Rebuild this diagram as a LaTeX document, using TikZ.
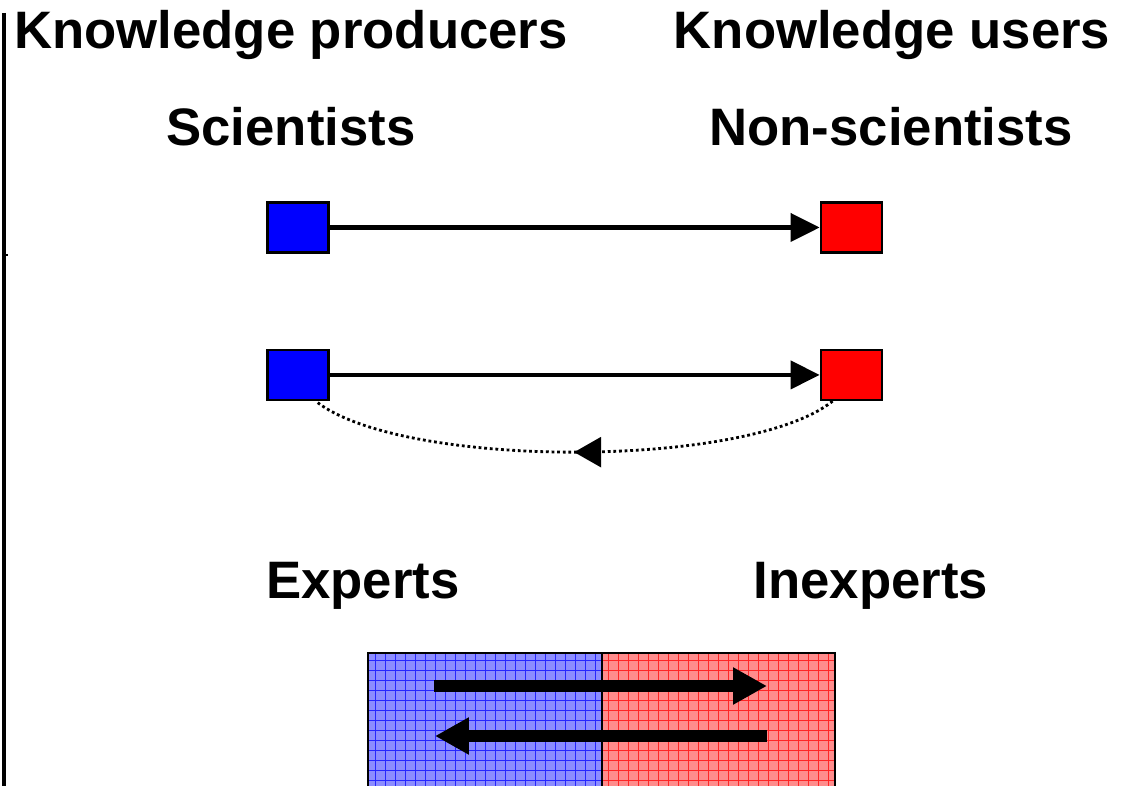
\documentclass[tikz,border=0pt]{standalone}
\usepackage{fontspec}
\setmainfont{Liberation Sans}
\usepackage{tikz}
\usetikzlibrary{arrows.meta,positioning,decorations.markings}
\definecolor{myblue}{RGB}{0,0,255}
\definecolor{myred}{RGB}{255,0,0}

\begin{document}
\begin{tikzpicture}[x=0.02cm, y=-0.02cm, node distance=9.8cm,
        title/.style={font=\fontsize{30}{36}\selectfont\bfseries, anchor=base, inner sep=0pt},
        party/.style={draw, line width=1.4pt, minimum width=1.22cm, minimum height=1cm, inner sep=0pt},
        link/.style={line width=2.3pt, -{Triangle[length=0.58cm,width=0.56cm]}},
        back/.style={line width=1.6pt, dash pattern=on 1.6pt off 1.6pt, postaction={decorate},
            decoration={markings, mark=at position 0.5 with {\arrow{Triangle[length=0.54cm,width=0.6cm]}}}},
        half/.style={draw, line width=1.1pt, anchor=north west, minimum width=4.68cm, minimum height=2.68cm, inner sep=0pt,
            path picture={\draw[#1, line width=0.3pt, step=0.2cm] (path picture bounding box.south west) grid (path picture bounding box.north east);}},
        flow/.style={line width=6.8pt, -{Triangle[length=0.68cm,width=0.7cm]}}]
        \useasboundingbox (0,0) rectangle (1133,786);

        % left rule
        \coordinate (top) at (4,13);
        \coordinate (bot) at (4,786);
        \coordinate (tick) at (4,255);
        \draw[line width=2.2pt] (top) -- (bot);
        \draw[line width=1pt] (tick) -- ++(4,0);

        % headings
        \node[title] (prod) at (291,49) {Knowledge producers};
        \node[title] (users) at (892,49) {Knowledge users};
        \node[title] (sci) at (291,146) {Scientists};
        \node[title] (nonsci) at (891,146) {Non-scientists};

        % one-way model
        \node[party, fill=myblue] (b1) at (298,227.5) {};
        \node[party, fill=myred] (r1) [right=of b1] {};
        \node[party, fill=myblue] (b2) [below=1.9cm of b1] {};
        \node[party, fill=myred] (r2) [right=of b2] {};

        \draw[link] (b1) -- (r1);
        \draw[link] (b2) -- (r2);
        \draw[back] ([xshift=0.26cm]r2.south west) .. controls +(-85,68) and +(85,68) .. ([xshift=-0.28cm]b2.south east);

        % dialogue model
        \node[title] (exp) at (363,599) {Experts};
        \node[title] (inexp) at (871,599) {Inexperts};

        \node[half=blue!85, fill=blue!45] (left) at (367,652) {};
        \node[half=red!85, fill=red!45, minimum width=4.66cm] (right) at (601,652) {};

        \coordinate (t1s) at (434,686);
        \coordinate (t1e) at (767,686);
        \coordinate (t2s) at (767,736);
        \coordinate (t2e) at (435,736);
        \draw[flow] (t1s) -- (t1e);
        \draw[flow] (t2s) -- (t2e);
    \end{tikzpicture}
\end{document}
